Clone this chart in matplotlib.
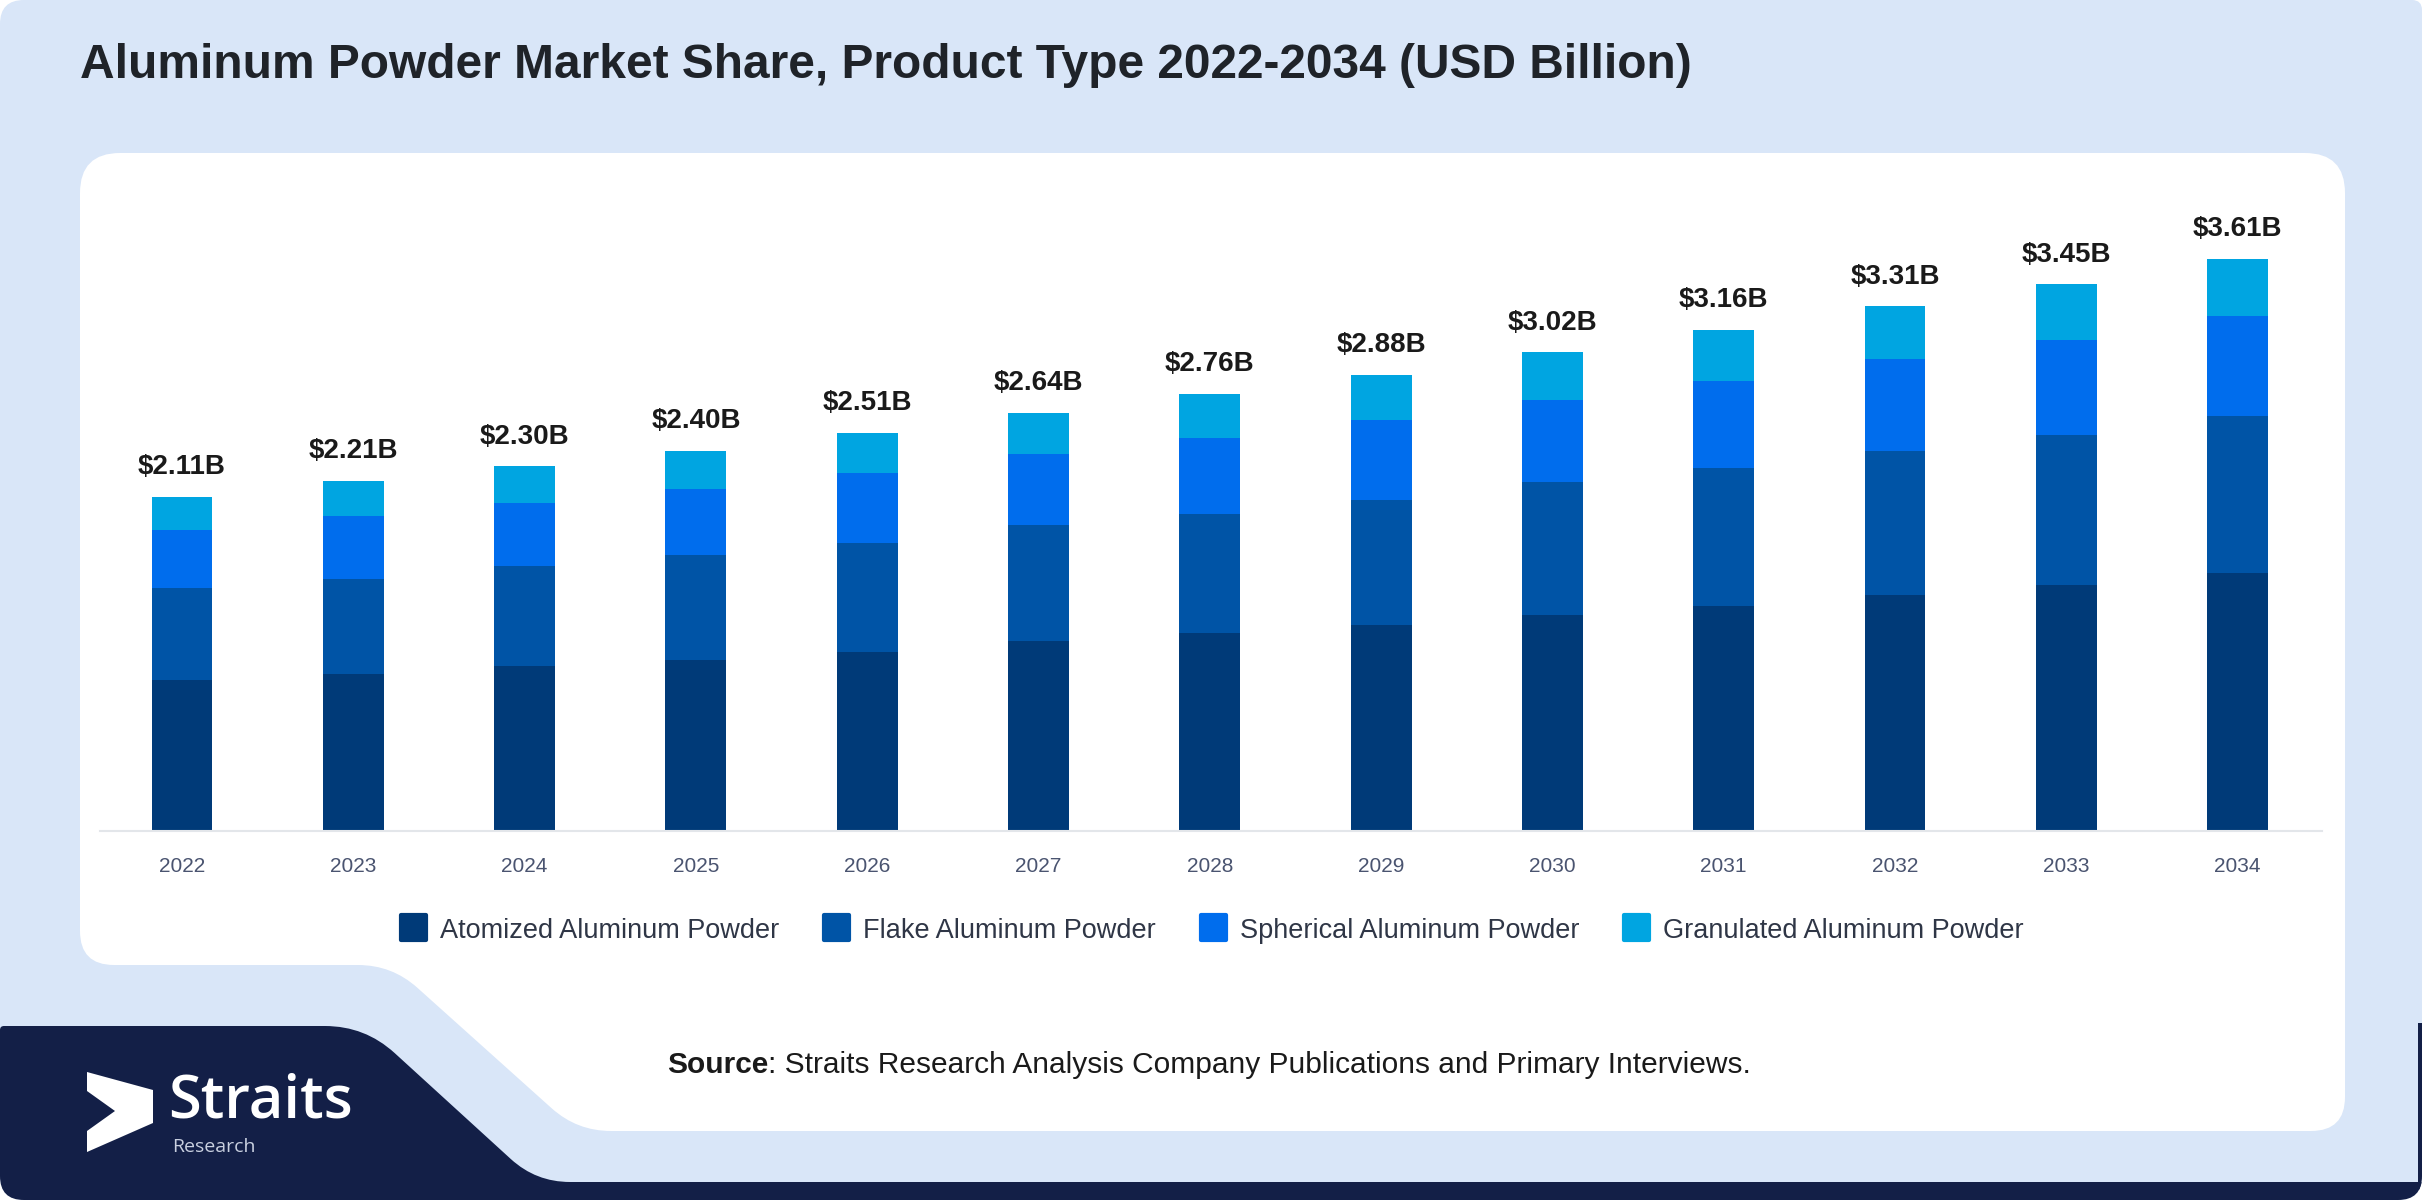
import matplotlib
matplotlib.use('Agg')
import matplotlib.pyplot as plt
from matplotlib.path import Path
from matplotlib.patches import PathPatch
from matplotlib.lines import Line2D
from matplotlib.markers import MarkerStyle
import numpy as np

plt.rcParams['font.family'] = ['Liberation Sans', 'DejaVu Sans']

# ---------------- data ----------------
years = ['2022', '2023', '2024', '2025', '2026', '2027', '2028',
         '2029', '2030', '2031', '2032', '2033', '2034']
atomized = [0.95, 0.99, 1.04, 1.08, 1.13, 1.20, 1.25, 1.30, 1.36, 1.42, 1.49, 1.55, 1.63]
flake = [0.58, 0.60, 0.63, 0.66, 0.69, 0.73, 0.75, 0.79, 0.84, 0.87, 0.91, 0.95, 0.99]
spherical = [0.37, 0.40, 0.40, 0.42, 0.44, 0.45, 0.48, 0.50, 0.52, 0.55, 0.58, 0.60, 0.63]
granulated = [0.21, 0.22, 0.23, 0.24, 0.25, 0.26, 0.28, 0.29, 0.30, 0.32, 0.33, 0.35, 0.36]
series_names = ['Atomized Aluminum Powder', 'Flake Aluminum Powder',
                'Spherical Aluminum Powder', 'Granulated Aluminum Powder']
series_colors = ['#003a78', '#0054a6', '#006ded', '#00a5e1']

title = 'Aluminum Powder Market Share, Product Type 2022-2034 (USD Billion)'
source_bold = 'Source'
source_rest = ': Straits Research Analysis Company Publications and Primary Interviews.'

# ---------------- figure ----------------
W, H = 2422, 1200
fig = plt.figure(figsize=(W / 100, H / 100), dpi=100, facecolor='white')


def P(x, y):
    return (x / W, 1 - y / H)


def rounded_path(pts, radii):
    n = len(pts)
    verts, codes = [], []
    for i in range(n):
        p = np.array(pts[i], float)
        prev = np.array(pts[i - 1], float)
        nxt = np.array(pts[(i + 1) % n], float)
        r = radii[i]
        d1 = prev - p
        d1 /= np.linalg.norm(d1)
        d2 = nxt - p
        d2 /= np.linalg.norm(d2)
        a = p + d1 * r
        b = p + d2 * r
        verts.append(P(*a))
        codes.append(Path.MOVETO if i == 0 else Path.LINETO)
        verts.append(P(*p))
        codes.append(Path.CURVE3)
        verts.append(P(*b))
        codes.append(Path.CURVE3)
    verts.append(verts[0])
    codes.append(Path.CLOSEPOLY)
    return Path(verts, codes)


# light blue rounded background
bg = PathPatch(rounded_path([(0, 0), (W, 0), (W, H), (0, H)], [24, 10, 24, 24]),
               facecolor='#d9e6f8', edgecolor='none', transform=fig.transFigure, zorder=0)
fig.add_artist(bg)

# dark navy footer shape
navy = PathPatch(rounded_path([(0, 1026), (365, 1026), (536, 1182), (W, 1182), (W, H), (0, H)],
                              [4, 40, 34, 0, 0, 0]),
                 facecolor='#131f47', edgecolor='none', transform=fig.transFigure, zorder=1)
fig.add_artist(navy)
navy.set_clip_path(bg)
strip = PathPatch(rounded_path([(2418, 1023), (W, 1023), (W, 1190), (2418, 1190)], [0, 0, 0, 0]),
                  facecolor='#131f47', edgecolor='none', transform=fig.transFigure, zorder=1)
fig.add_artist(strip)
strip.set_clip_path(bg)

# white panel with notch
panel = PathPatch(rounded_path([(80, 153), (2345, 153), (2345, 1131), (577, 1131), (392, 965), (80, 965)],
                               [40, 40, 34, 34, 34, 34]),
                  facecolor='white', edgecolor='none', transform=fig.transFigure, zorder=1)
fig.add_artist(panel)

# logo
icon = PathPatch(Path([P(87, 1072), P(153, 1090), P(153, 1123), P(87, 1152), P(87, 1131),
                       P(115, 1111), P(87, 1091), P(87, 1072)],
                      [Path.MOVETO] + [Path.LINETO] * 6 + [Path.CLOSEPOLY]),
                 facecolor='white', edgecolor='none', transform=fig.transFigure, zorder=2)
fig.add_artist(icon)
fig.text(*P(168, 1117), 'Straits', fontsize=43, color='white', fontweight='semibold',
         family=['Open Sans', 'DejaVu Sans'], ha='left', va='baseline', zorder=3)
fig.text(*P(172, 1138), 'Research', fontsize=14, color='#c9d0e0',
         family=['Open Sans', 'DejaVu Sans'], ha='left', va='top', zorder=3)

# title
fig.text(*P(80, 78), title, fontsize=34.5, fontweight='bold', color='#1f2329',
         ha='left', va='baseline', zorder=3)

# ---------------- chart ----------------
px_center0, px_step, px_unit = 182.0, 171.3, 158.5
ax_left, ax_right, ax_base, ax_top = 100, 2322, 831, 165
ax = fig.add_axes([ax_left / W, (H - ax_base) / H, (ax_right - ax_left) / W, (ax_base - ax_top) / H])
ax.set_facecolor('none')
ax.set_zorder(2)
ax.set_xlim((ax_left - px_center0) / px_step, (ax_right - px_center0) / px_step)
ax.set_ylim(0, (ax_base - ax_top) / px_unit)

x = np.arange(len(years))
bottom = np.zeros(len(years))
containers = []
for vals, col, name in zip([atomized, flake, spherical, granulated], series_colors, series_names):
    c = ax.bar(x, vals, width=0.356, bottom=bottom, color=col, label=name, linewidth=0)
    containers.append(c)
    bottom = bottom + np.array(vals)

totals = bottom
ax.bar_label(containers[-1], labels=[f'${t:.2f}B' for t in totals], padding=12,
             fontsize=20, fontweight='bold', color='#1a1a1a')

ax.set_xticks(x, years)
ax.tick_params(axis='x', length=0, pad=19, labelsize=15, labelcolor='#4a5470')
ax.set_yticks([])
for s in ['top', 'right', 'left']:
    ax.spines[s].set_visible(False)
ax.spines['bottom'].set_color('#e3e6ea')
ax.spines['bottom'].set_linewidth(1.5)

# legend
handles = [Line2D([], [], linestyle='none', marker=MarkerStyle('s', joinstyle='round'),
                  markersize=18, markerfacecolor=c, markeredgecolor=c, markeredgewidth=3)
           for c in series_colors]
leg = fig.legend(handles, series_names, loc='center', bbox_to_anchor=P(1211.5, 930), ncol=4,
                 frameon=False, fontsize=19.5, handlelength=1.0, handleheight=1.0,
                 handletextpad=0.5, columnspacing=1.6, borderpad=0, borderaxespad=0,
                 labelcolor='#2f3646')
leg.set_zorder(3)

# source
t1 = fig.text(*P(667, 1073), source_bold, fontsize=21.5, fontweight='bold', color='#1a1a1a',
              ha='left', va='baseline', zorder=3)
fig.canvas.draw()
bb = t1.get_window_extent(renderer=fig.canvas.get_renderer())
fig.text(bb.x1 / W, 1 - 1073 / H, source_rest, fontsize=21.5, color='#1a1a1a',
         ha='left', va='baseline', zorder=3)

fig.savefig('out.png', dpi=100, facecolor='white')
